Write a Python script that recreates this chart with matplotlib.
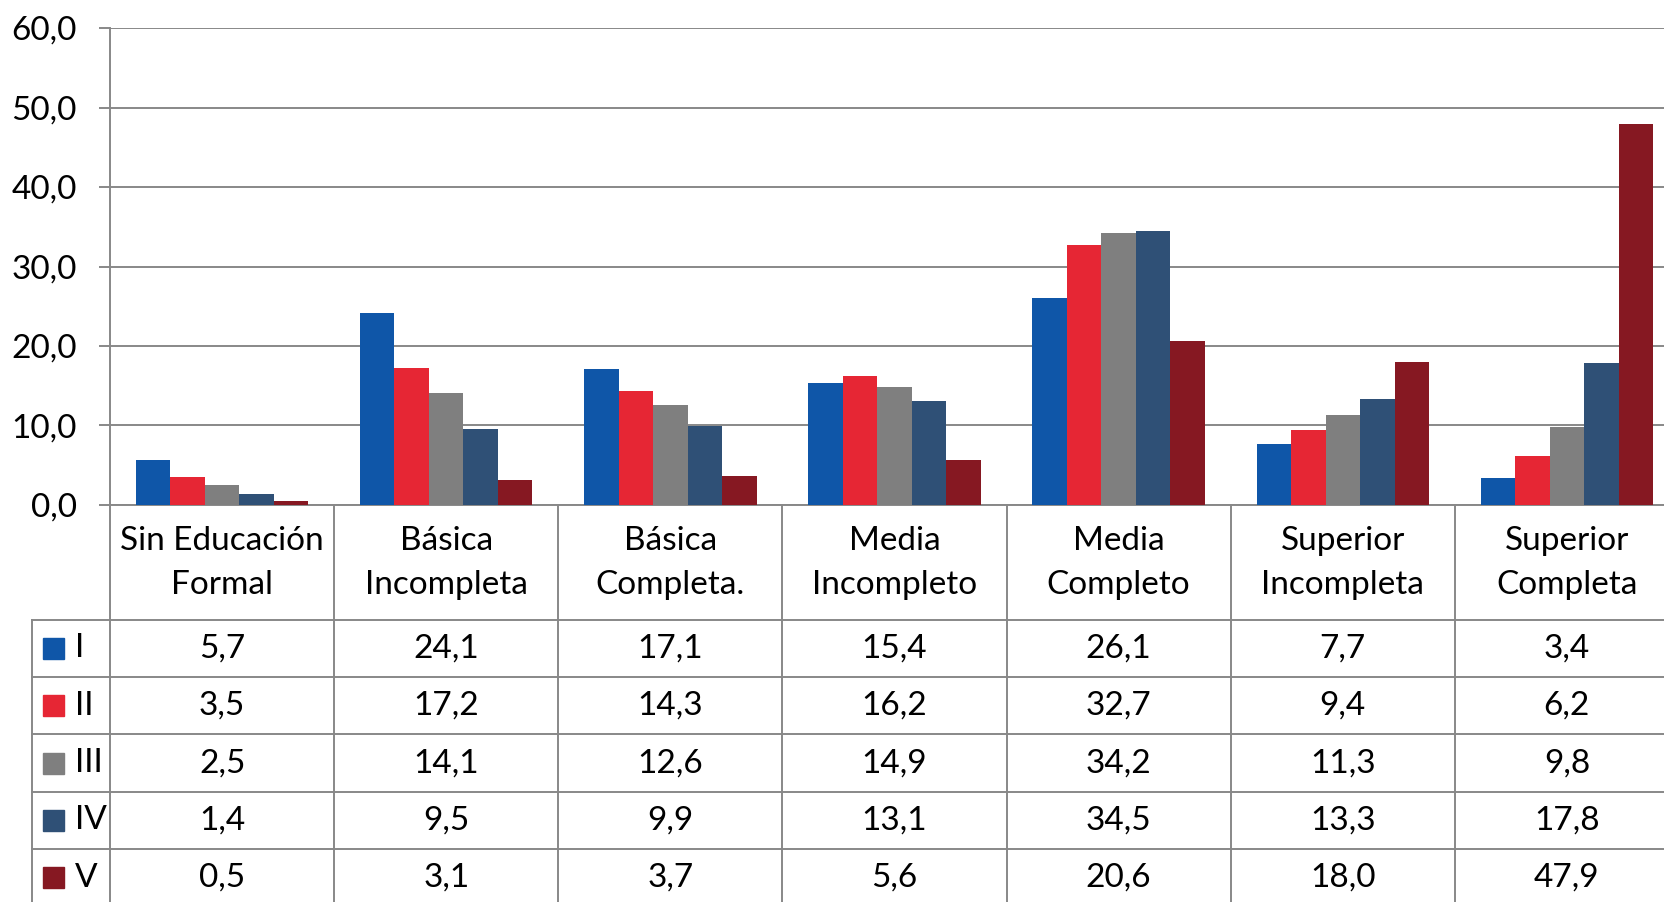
import matplotlib
matplotlib.use("Agg")
import matplotlib.pyplot as plt
import numpy as np

# data
categories = ["Sin Educación\nFormal", "Básica\nIncompleta", "Básica\nCompleta.",
              "Media\nIncompleto", "Media\nCompleto", "Superior\nIncompleta",
              "Superior\nCompleta"]
series_names = ["I", "II", "III", "IV", "V"]
vals_I = [5.7, 24.1, 17.1, 15.4, 26.1, 7.7, 3.4]
vals_II = [3.5, 17.2, 14.3, 16.2, 32.7, 9.4, 6.2]
vals_III = [2.5, 14.1, 12.6, 14.9, 34.2, 11.3, 9.8]
vals_IV = [1.4, 9.5, 9.9, 13.1, 34.5, 13.3, 17.8]
vals_V = [0.5, 3.1, 3.7, 5.6, 20.6, 18.0, 47.9]
series_vals = [vals_I, vals_II, vals_III, vals_IV, vals_V]
colors = ["#0F56A8", "#E62634", "#7F7F7F", "#2F5076", "#861822"]
yticks = [0, 10, 20, 30, 40, 50, 60]

plt.rcParams['font.family'] = ['Lato', 'DejaVu Sans']
fs = 24
grid_col = "#888888"

W, H = 1664, 902
fig = plt.figure(figsize=(W / 100, H / 100), dpi=100)

# chart axes (plot area runs past the right edge of the picture, as in the original)
left, right, top, bottom = 110, 1679, 28, 505
ax = fig.add_axes([left / W, 1 - bottom / H, (right - left) / W, (bottom - top) / H])

n = len(categories)
x = np.arange(n)
width = 1 / 6.5  # gap width 150%
for k, (name, v) in enumerate(zip(series_names, series_vals)):
    offset = (k - 2) * width
    ax.bar(x + offset, v, width, color=colors[k], label=name, zorder=3)

ax.set_xlim(-0.5, n - 0.5)
ax.set_ylim(0, 60)
ax.set_yticks(yticks)
ax.set_yticklabels([("%.1f" % t).replace(".", ",") for t in yticks])
ax.tick_params(axis='y', length=8, width=1.4, color=grid_col, pad=16, labelsize=fs)
ax.set_xticks([])
ax.grid(axis='y', color=grid_col, linewidth=1.4, zorder=0)
for s in ["top", "right"]:
    ax.spines[s].set_visible(False)
for s in ["left", "bottom"]:
    ax.spines[s].set_color(grid_col)
    ax.spines[s].set_linewidth(1.4)

# data table below the chart
hdr_px, row_px = 114, 57.5
tab_h = hdr_px + 5 * row_px
tab = fig.add_axes([left / W, 1 - (bottom + tab_h) / H, (right - left) / W, tab_h / H])
nrows = len(series_names)
tab.set_xlim(-0.5, n - 0.5)
tab.set_ylim(2 + nrows, 0)
tab.axis('off')
leg_x0 = -0.5 - (left - 31.7) / ((right - left) / n)

for k in range(n + 1):
    tab.plot([k - 0.5, k - 0.5], [0, 2 + nrows], color=grid_col, lw=1.4, clip_on=False)
for r in range(nrows + 1):
    tab.plot([leg_x0, n - 0.5], [2 + r, 2 + r], color=grid_col, lw=1.4, clip_on=False)
tab.plot([leg_x0, leg_x0], [2, 2 + nrows], color=grid_col, lw=1.4, clip_on=False)

for i, c in enumerate(categories):
    l1, l2 = c.split("\n")
    tab.text(i, 0.62, l1, ha='center', va='center', fontsize=fs)
    tab.text(i, 1.40, l2, ha='center', va='center', fontsize=fs)

sq = 21 / ((right - left) / n)
for r, (name, v) in enumerate(zip(series_names, series_vals)):
    yc = 2.5 + r
    for i, val in enumerate(v):
        tab.text(i, yc, ("%.1f" % val).replace(".", ","), ha='center', va='center', fontsize=fs)
    tab.add_patch(plt.Rectangle((leg_x0 + 11.5 / 224, yc - 0.5 * 21 / row_px), sq, 21 / row_px,
                                color=colors[r], clip_on=False))
    tab.text(leg_x0 + 43.5 / 224, yc, name, ha='left', va='center', fontsize=fs)

fig.savefig("out.png", dpi=100)
